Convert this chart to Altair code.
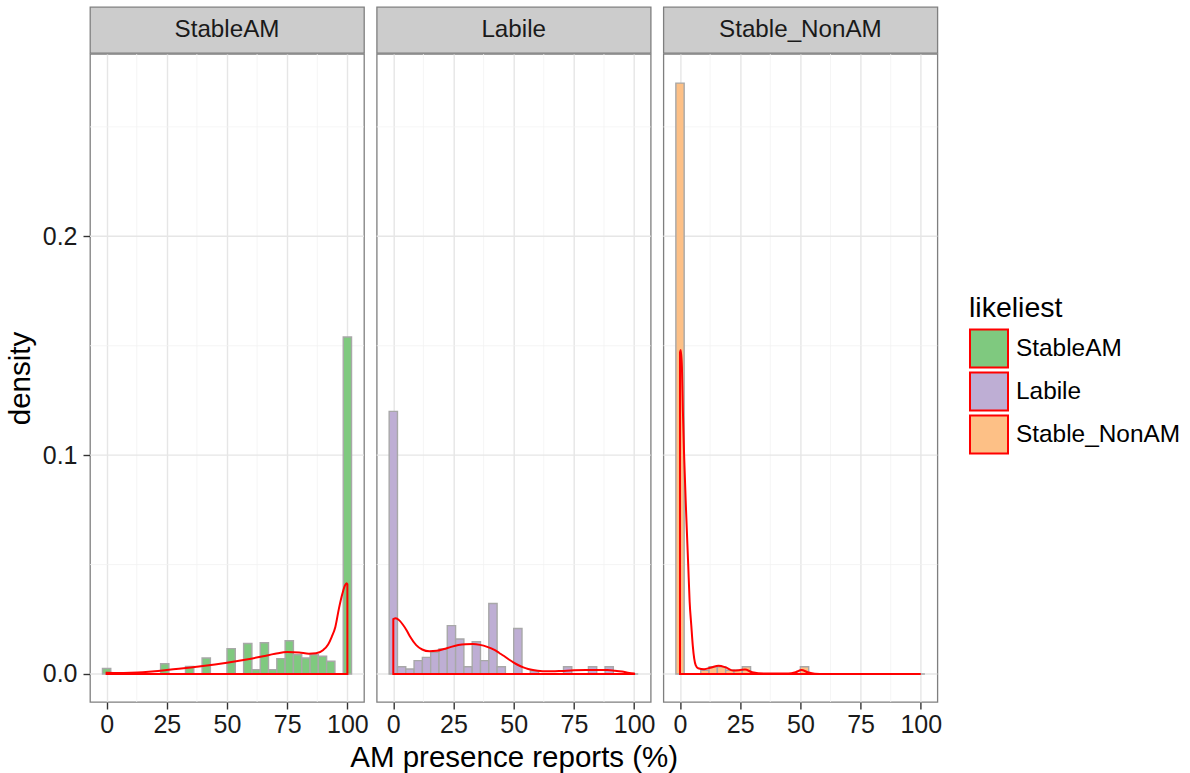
import altair as alt
import pandas as pd

# ---------------- data ----------------
categories = ["StableAM", "Labile", "Stable_NonAM"]
colors = ["#7FC97F", "#BEAED4", "#FDC086"]

n_bins = 30
bin_width = 100 / 29
bin_centers = [round(i * bin_width, 4) for i in range(n_bins)]

hist_stableam = [0.0025, 0, 0, 0, 0, 0, 0, 0.0047, 0, 0, 0.0035, 0, 0.0073, 0, 0,
                 0.0116, 0, 0.0139, 0.0020, 0.0143, 0.0020, 0.0070, 0.0152, 0.0088,
                 0.0073, 0.0088, 0.0081, 0.0058, 0, 0.1540]
hist_labile = [0.1200, 0.0033, 0.0023, 0.0061, 0.0076, 0.0099, 0.0114, 0.0221, 0.0160,
               0.0033, 0.0147, 0.0061, 0.0322, 0.0033, 0, 0.0208, 0, 0.0015, 0, 0, 0,
               0.0033, 0, 0, 0.0033, 0, 0.0033, 0, 0, 0]
hist_nonam = [0.2700, 0, 0, 0.0017, 0.0033, 0.0033, 0.0017, 0.0017, 0.0033, 0, 0, 0, 0,
              0, 0, 0.0033, 0, 0, 0, 0, 0, 0, 0, 0, 0, 0, 0, 0, 0, 0]

dens_stableam_x = [0, 5, 10, 15, 20, 25, 30, 35, 40, 45, 50, 55, 60, 65, 70, 75, 80, 84,
                   87, 90, 92, 93.5, 95, 96.5, 98, 99, 99.7, 100]
dens_stableam_y = [0.0006, 0.0005, 0.0006, 0.0008, 0.0012, 0.0018, 0.0024, 0.0030,
                   0.0036, 0.0043, 0.0051, 0.0060, 0.0070, 0.0081, 0.0092, 0.0100,
                   0.0098, 0.0093, 0.0095, 0.0110, 0.0135, 0.0170, 0.0215, 0.0300,
                   0.0370, 0.0405, 0.0415, 0.0410]

dens_labile_x = [0, 1, 2.5, 4, 5.5, 7, 9.5, 12, 15, 18, 21, 24, 27, 30, 33, 36, 39, 42,
                 44, 46, 48, 50, 52, 54, 56, 58, 62, 66, 70, 75, 80, 85, 89, 92, 95, 98, 100]
dens_labile_y = [0.0251, 0.0255, 0.0245, 0.0225, 0.0200, 0.0170, 0.0132, 0.0112, 0.0104,
                 0.0106, 0.0114, 0.0124, 0.0132, 0.0136, 0.0137, 0.0133, 0.0124, 0.0110,
                 0.0096, 0.0082, 0.0066, 0.0052, 0.0040, 0.0030, 0.0023, 0.0018, 0.0013,
                 0.0012, 0.0014, 0.0017, 0.0018, 0.0018, 0.0018, 0.0015, 0.0011, 0.0005,
                 0.0002]

dens_nonam_x = [0, 0.3, 0.8, 1.2, 1.7, 2.5, 3.4, 4.0, 4.7, 5.3, 5.9, 6.5, 7.5, 10, 13, 16,
                19, 22, 25, 27, 30, 35, 45, 48, 50.5, 53, 56, 60, 100]
dens_nonam_y = [0.147, 0.148, 0.140, 0.120, 0.100, 0.075, 0.050, 0.033, 0.022, 0.013,
                0.007, 0.004, 0.0026, 0.0022, 0.0030, 0.0038, 0.0030, 0.0016, 0.0018,
                0.0020, 0.0008, 0.0002, 0.0002, 0.0008, 0.0018, 0.0008, 0.0001, 0, 0]

hist_values = [hist_stableam, hist_labile, hist_nonam]
dens_values = [(dens_stableam_x, dens_stableam_y), (dens_labile_x, dens_labile_y),
               (dens_nonam_x, dens_nonam_y)]

x_ticks = [0, 25, 50, 75, 100]
x_minor = [12.5, 37.5, 62.5, 87.5]
y_ticks = [0.0, 0.1, 0.2]
y_minor = [0.05, 0.15, 0.25]

# ---------------- style ----------------
FONT = "Liberation Sans"
PW, PH, SH = 274, 648, 46
GAP = 12.7
TICK_FS, TITLE_FS = 25, 29.5
GRID_MAJOR, GRID_MINOR = "#E6E6E6", "#F3F3F3"
x_scale = alt.Scale(domain=[-6.9, 106.9], nice=False, zero=False)
y_scale = alt.Scale(domain=[-0.0128, 0.2833], nice=False, zero=False)
fill_scale = alt.Scale(domain=categories, range=colors)
legend = alt.Legend(
    title="likeliest", orient="none", legendX=879, legendY=287,
    titleFontSize=28.5, titleFontWeight="normal", titleColor="#000000", titlePadding=6,
    labelFontSize=24.4, labelColor="#000000", labelOffset=7, labelLimit=400,
    symbolType="square", symbolSize=1444, rowPadding=-3, padding=0,
    symbolStrokeColor="red", symbolStrokeWidth=2, symbolOpacity=1,
)


def make_plot(i):
    cat = categories[i]
    hist_df = pd.DataFrame({"likeliest": cat, "center": bin_centers, "density": hist_values[i]})
    dx, dy = dens_values[i]
    dens_df = pd.DataFrame({"x": dx, "density": dy})

    x_title = "AM presence reports (%)" if i == 1 else ""
    x_axis = alt.Axis(
        values=x_ticks, grid=True, gridColor=GRID_MAJOR, gridWidth=1.4, domain=False,
        ticks=True, tickColor="#333333", tickSize=7, tickWidth=1.4,
        labelFontSize=TICK_FS, labelColor="#1A1A1A", labelPadding=3, labelFlush=False,
        titleFontSize=TITLE_FS, titleFontWeight="normal", titleColor="#000000",
        titlePadding=6,
    )
    if i == 0:
        y_axis = alt.Axis(
            values=y_ticks, format=".1f", grid=False,
            domain=False, tickColor="#333333", tickSize=7, tickWidth=1.4,
            labelFontSize=TICK_FS, labelColor="#1A1A1A", labelPadding=6,
            titleFontSize=TITLE_FS, titleFontWeight="normal",
            titleColor="#000000", titlePadding=7,
        )

        def Y(field):
            return alt.Y(field, scale=y_scale, axis=y_axis, title="density")
    else:
        def Y(field):
            return alt.Y(field, scale=y_scale, axis=None)

    def X(field):
        return alt.X(field, scale=x_scale, axis=x_axis, title=x_title)

    minor_v = alt.Chart(pd.DataFrame({"x": x_minor})).mark_rule(
        color=GRID_MINOR, strokeWidth=0.8
    ).encode(x=X("x:Q"))
    minor_h = alt.Chart(pd.DataFrame({"y": y_minor})).mark_rule(
        color=GRID_MINOR, strokeWidth=0.8
    ).encode(y=Y("y:Q"))
    major_h = alt.Chart(pd.DataFrame({"y": y_ticks})).mark_rule(
        color=GRID_MAJOR, strokeWidth=1.4
    ).encode(y=Y("y:Q"))

    bars = alt.Chart(hist_df).transform_calculate(
        x0=f"datum.center - {bin_width / 2}", x1=f"datum.center + {bin_width / 2}"
    ).mark_rect(stroke="#A8A8A8", strokeWidth=1.4).encode(
        x=X("x0:Q"),
        x2="x1:Q",
        y=Y("density:Q"),
        y2=alt.datum(0),
        fill=alt.Fill("likeliest:N", scale=fill_scale, legend=legend),
    )

    dens = alt.Chart(dens_df).mark_area(
        fillOpacity=0, fill="white", stroke="#FF0000", strokeWidth=2, interpolate="monotone"
    ).encode(
        x=X("x:Q"),
        y=Y("density:Q"),
        y2=alt.datum(0),
    )

    return alt.layer(minor_v, minor_h, major_h, bars, dens).properties(width=PW, height=PH)


def make_strip(i):
    return alt.Chart(pd.DataFrame({"label": [categories[i]]})).mark_text(
        fontSize=24.2, color="#1A1A1A", font=FONT
    ).encode(
        text="label:N", x=alt.value(PW / 2), y=alt.value(SH / 2)
    ).properties(
        width=PW, height=SH,
        view=alt.ViewBackground(fill="#CCCCCC", stroke="#7F7F7F", strokeWidth=1.3),
    )


strips_row = alt.hconcat(*[make_strip(i) for i in range(3)], spacing=GAP, bounds="flush")
plots_row = alt.hconcat(*[make_plot(i) for i in range(3)], spacing=GAP, bounds="flush")

chart = alt.vconcat(strips_row, plots_row, spacing=-3).properties(
    padding={"left": 4, "top": 6, "right": 0, "bottom": 0},
    background="white",
).configure(
    font=FONT,
).configure_view(
    stroke="#7F7F7F", strokeWidth=1.3, fill="white",
)

chart.save("out.html", embed_options={"renderer": "svg", "actions": False})
